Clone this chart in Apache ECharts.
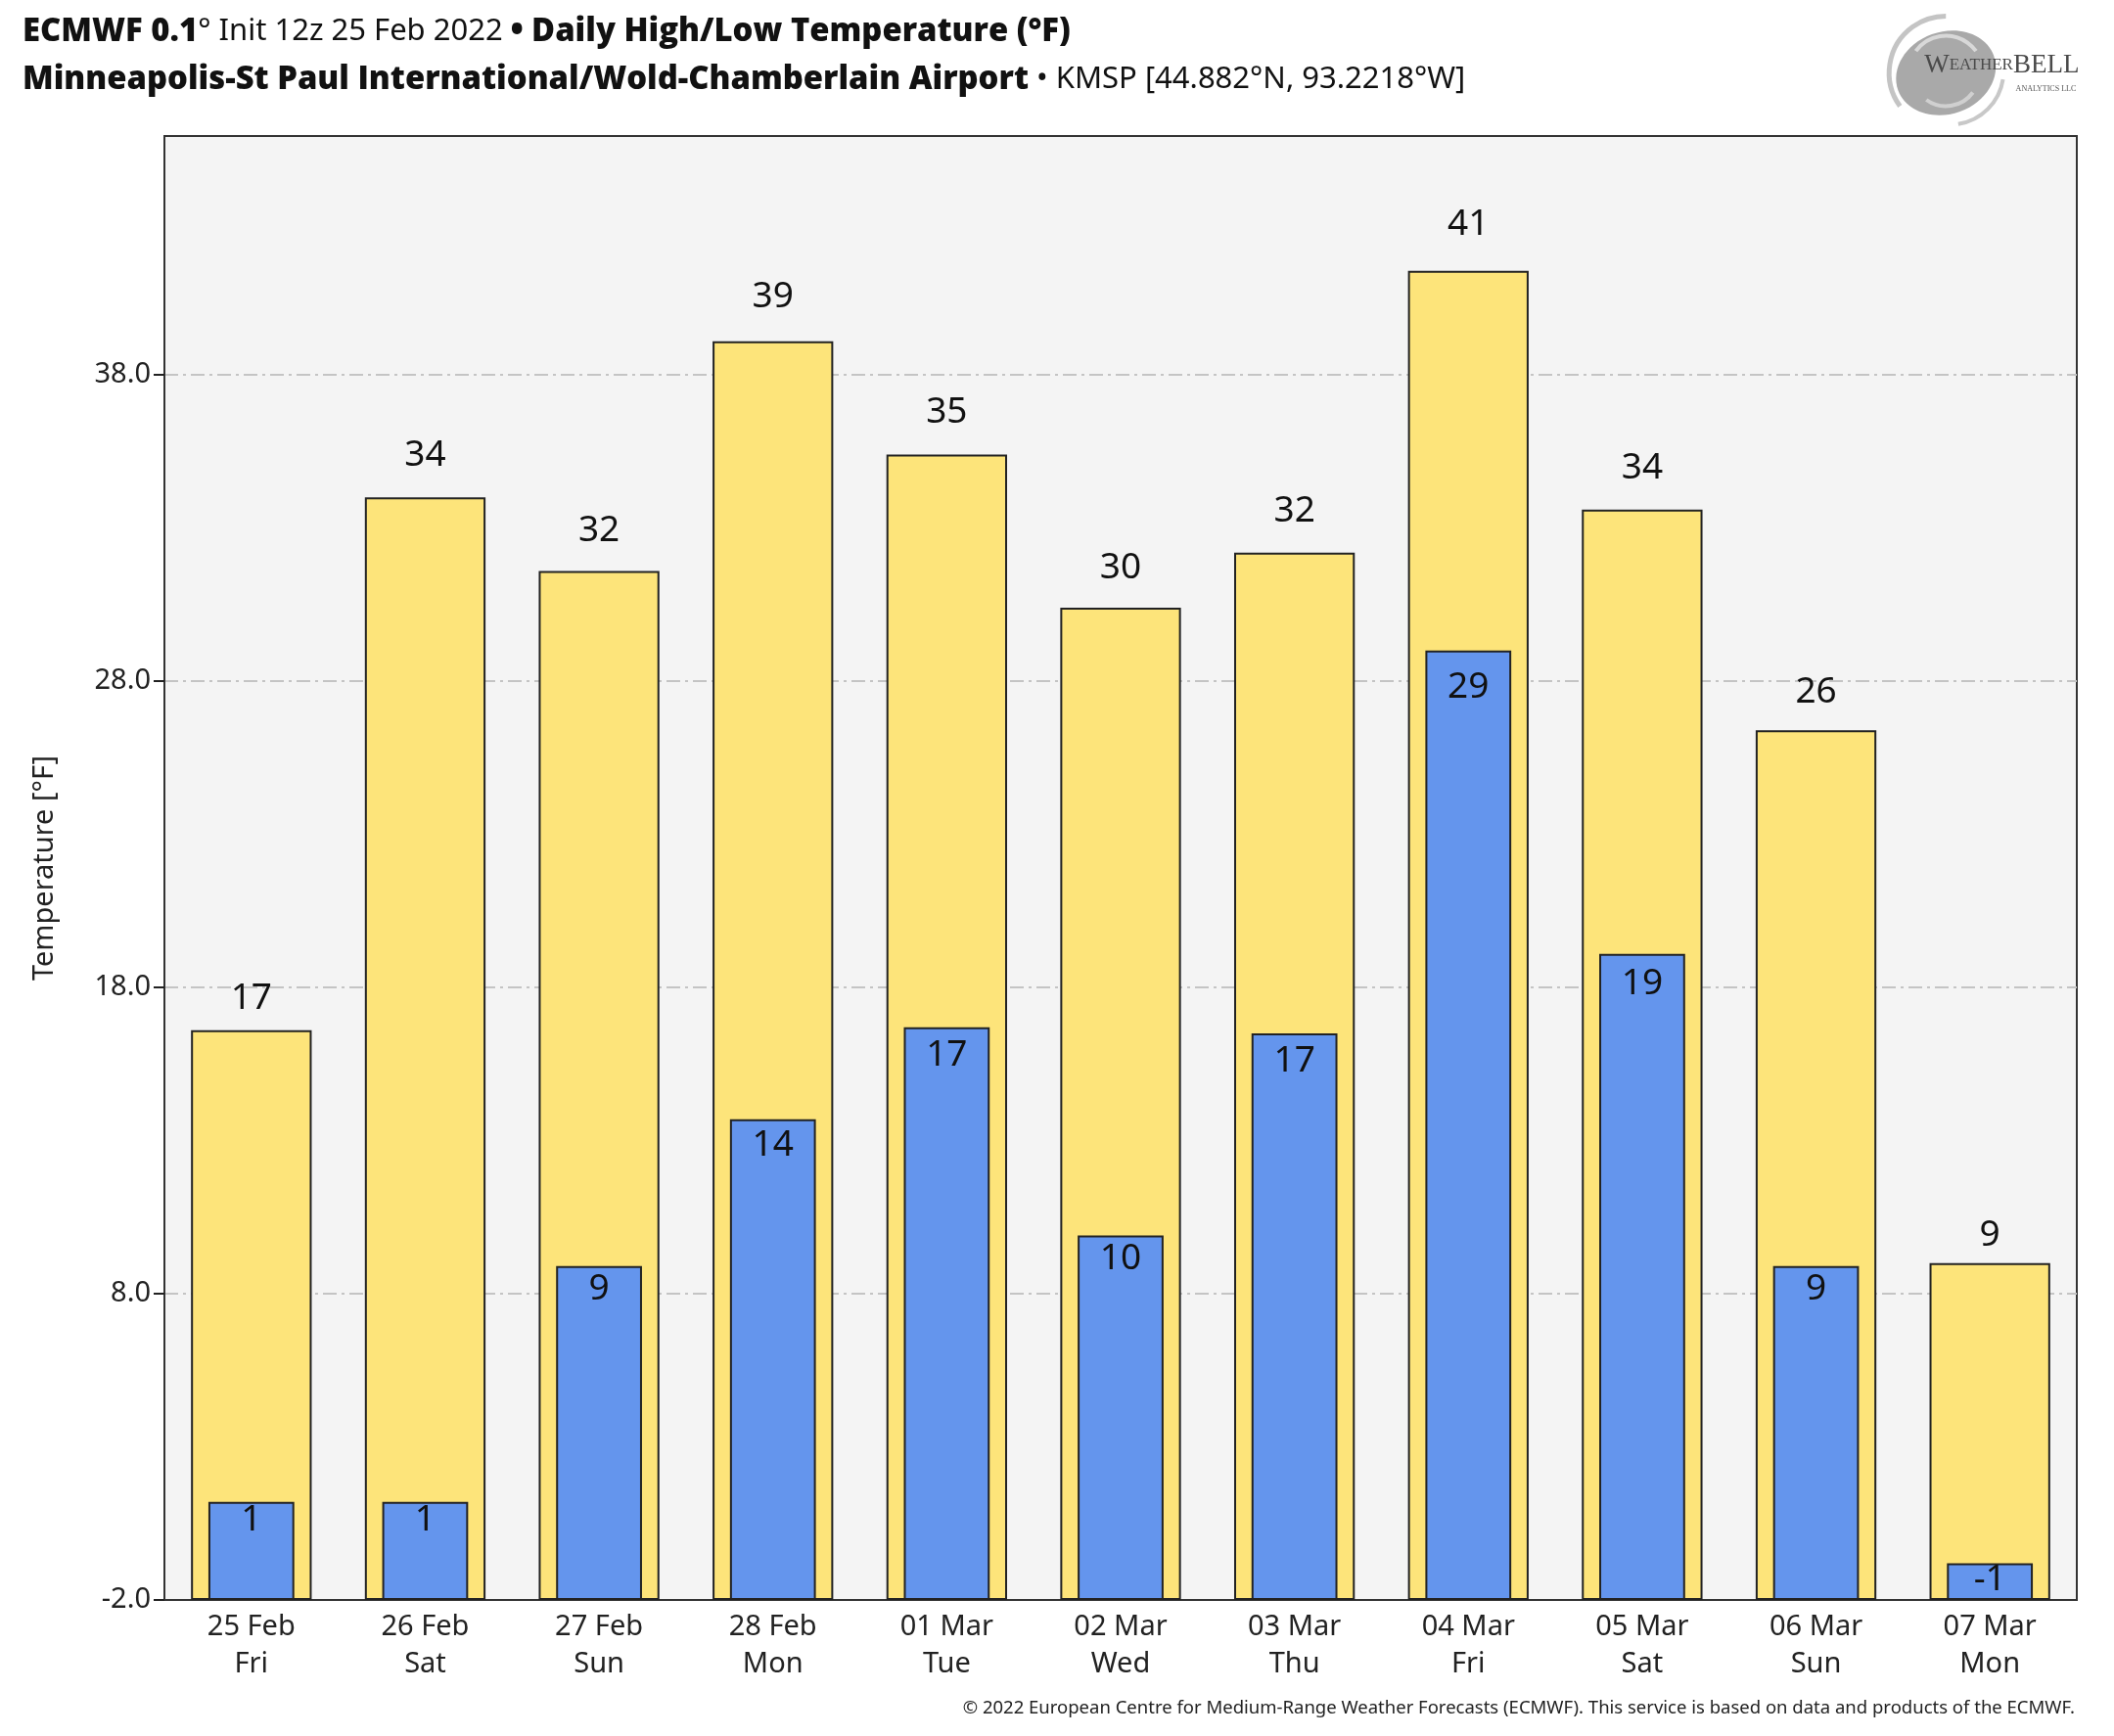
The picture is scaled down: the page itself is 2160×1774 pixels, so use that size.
<!DOCTYPE html>
<html>
<head>
<meta charset="utf-8">
<script src="https://cdn.jsdelivr.net/npm/echarts@6/dist/echarts.min.js"></script>
<style>
html,body{margin:0;padding:0;background:#fff;}
#chart{width:2160px;height:1774px;}
</style>
</head>
<body>
<div id="chart"></div>
<script>
const categories = ['25 Feb','26 Feb','27 Feb','28 Feb','01 Mar','02 Mar','03 Mar','04 Mar','05 Mar','06 Mar','07 Mar'];
const weekdays = ['Fri','Sat','Sun','Mon','Tue','Wed','Thu','Fri','Sat','Sun','Mon'];
const highs = [16.6, 34.0, 31.6, 39.1, 35.4, 30.4, 32.2, 41.4, 33.6, 26.4, 9.0];
const lows  = [1.2, 1.2, 8.9, 13.7, 16.7, 9.9, 16.5, 29.0, 19.1, 8.9, -0.8];
const yTicks = [-2, 8, 18, 28, 38];

const FONT = 'Noto Sans';
const BOLD = 'Open Sans';
const chart = echarts.init(document.getElementById('chart'), null, {renderer: 'canvas'});

const highData = highs.map(v => ({value: v, label: {distance: 5 + 0.565 * v}}));
const lowData = lows.map(v => ({value: v, label: {distance: -1.2 + 0.696 * v}}));

const option = {
  backgroundColor: '#ffffff',
  animation: false,
  textStyle: {fontFamily: FONT},
  grid: {
    left: 168, right: 38, top: 139, bottom: 139,
    show: true, backgroundColor: '#f4f4f4', borderColor: '#333', borderWidth: 2
  },
  xAxis: [
    {
      type: 'category', data: categories, position: 'bottom',
      axisLine: {show: true, onZero: false, lineStyle: {color: '#333', width: 2}},
      axisTick: {show: false},
      axisLabel: {
        fontSize: 29, lineHeight: 38, color: '#222', margin: 9, fontFamily: FONT,
        formatter: (v, i) => v + '\n' + weekdays[i]
      },
      splitLine: {show: false}
    },
    {
      type: 'category', data: categories, show: false,
      axisLine: {show: false, onZero: false}, axisTick: {show: false}, axisLabel: {show: false}
    }
  ],
  yAxis: {
    type: 'value', min: yTicks[0], max: 45.8, interval: 10, startValue: yTicks[0],
    name: 'Temperature [°F]', nameLocation: 'middle', nameGap: 108,
    nameTextStyle: {fontSize: 29, color: '#222', fontFamily: FONT},
    axisLine: {show: true, lineStyle: {color: '#333', width: 2}},
    axisTick: {show: true, length: 11, lineStyle: {color: '#222', width: 2}},
    axisLabel: {
      fontSize: 29, color: '#222', margin: 14, fontFamily: FONT, showMaxLabel: false,
      formatter: v => (yTicks.indexOf(Math.round(v * 10) / 10) >= 0 ? v.toFixed(1) : '')
    },
    splitLine: {show: true, showMinLine: false, showMaxLine: false,
      lineStyle: {color: '#c4c4c4', width: 2, type: [14, 5, 3, 5]}}
  },
  series: [
    {
      name: 'High', type: 'bar', xAxisIndex: 0, barWidth: '69.4%',
      data: highData,
      itemStyle: {color: '#fde47a', borderColor: '#222', borderWidth: 2},
      label: {
        show: true, position: 'top', fontSize: 37, lineHeight: 37, color: '#111', fontFamily: FONT,
        formatter: p => String(Math.round(p.value))
      }
    },
    {
      name: 'Low', type: 'bar', xAxisIndex: 1, barWidth: '49.4%',
      data: lowData,
      itemStyle: {color: '#6495ed', borderColor: '#222', borderWidth: 2},
      label: {
        show: true, position: 'insideTop', fontSize: 37, lineHeight: 37, color: '#111', fontFamily: FONT,
        formatter: p => String(Math.round(p.value))
      }
    }
  ],
  graphic: [
    {
      type: 'text', left: 23, top: 16,
      style: {
        text: '{b|ECMWF 0.1}{r|° Init 12z 25 Feb 2022 }{b|• Daily High/Low Temperature (°F)}',
        rich: {
          b: {fontFamily: BOLD, fontWeight: 800, fontSize: 32.8, fill: '#111'},
          r: {fontFamily: FONT, fontWeight: 'normal', fontSize: 31, fill: '#111'}
        }
      }
    },
    {
      type: 'text', left: 23, top: 65,
      style: {
        text: '{b|Minneapolis-St Paul International/Wold-Chamberlain Airport}{r| • KMSP [44.882°N, 93.2218°W]}',
        rich: {
          b: {fontFamily: BOLD, fontWeight: 800, fontSize: 32.8, fill: '#111'},
          r: {fontFamily: FONT, fontWeight: 'normal', fontSize: 31, fill: '#111'}
        }
      }
    },
    {
      type: 'text', right: 40, top: 1736,
      style: {
        text: '© 2022 European Centre for Medium-Range Weather Forecasts (ECMWF). This service is based on data and products of the ECMWF.',
        fontFamily: FONT, fontSize: 18.5, fill: '#222'
      }
    },
    {
      type: 'group', left: 1925, top: 14,
      children: [
        {type: 'ellipse', shape: {cx: 62, cy: 52, rx: 52, ry: 42}, rotation: 0.35, originX: 62, originY: 52, style: {fill: '#a9a9a9'}},
        {type: 'arc', shape: {cx: 62, cy: 52, r: 58, startAngle: Math.PI * 0.8, endAngle: Math.PI * 1.5}, style: {stroke: '#c4c4c4', lineWidth: 5, fill: null}},
        {type: 'arc', shape: {cx: 62, cy: 52, r: 38, startAngle: Math.PI * 1.2, endAngle: Math.PI * 1.8}, style: {stroke: '#d8d8d8', lineWidth: 4, fill: null}},
        {type: 'arc', shape: {cx: 62, cy: 52, r: 34, startAngle: Math.PI * 0.2, endAngle: Math.PI * 0.7}, style: {stroke: '#d0d0d0', lineWidth: 4, fill: null}},
        {type: 'arc', shape: {cx: 66, cy: 50, r: 55, startAngle: Math.PI * 0.05, endAngle: Math.PI * 0.45}, style: {stroke: '#c8c8c8', lineWidth: 4, fill: null}},
        {
          type: 'text', x: 40, y: 44,
          style: {
            text: '{a|W}{s|EATHER}{a|BELL}',
            verticalAlign: 'middle',
            rich: {
              a: {fontFamily: 'Liberation Serif', fontSize: 27, fill: '#4a4a4a'},
              s: {fontFamily: 'Liberation Serif', fontSize: 17, fill: '#4a4a4a'}
            }
          }
        },
        {
          type: 'text', x: 195, y: 68,
          style: {text: 'ANALYTICS LLC', align: 'right', verticalAlign: 'middle', fontFamily: 'Liberation Serif', fontSize: 8, fill: '#555'}
        }
      ]
    }
  ]
};
chart.setOption(option);
</script>
</body>
</html>
